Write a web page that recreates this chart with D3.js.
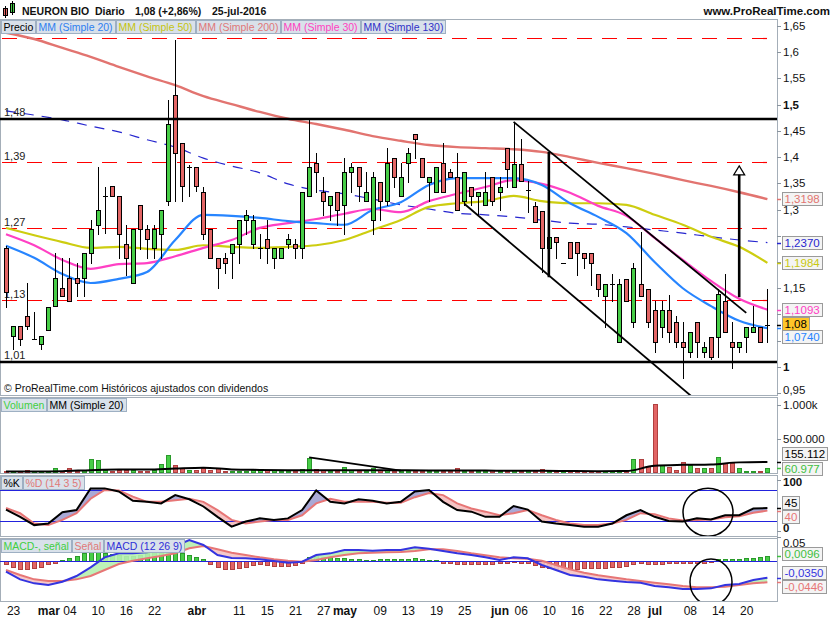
<!DOCTYPE html>
<html>
<head>
<meta charset="utf-8">
<title>NEURON BIO - Diario</title>
<script src="https://cdn.jsdelivr.net/npm/d3@7/dist/d3.min.js"></script>
<style>
  body { margin: 0; background: #fff; }
  svg { display: block; font-family: "Liberation Sans", Arial, sans-serif; }
</style>
</head>
<body>
<svg id="chart" width="835" height="620"></svg>
<script>
// sesiones (dd/mm, 2016)
const dates = [
  "22/02","23/02","24/02","25/02","26/02","29/02",
  "01/03","02/03","03/03","04/03","07/03","08/03","09/03","10/03","11/03","14/03","15/03","16/03","17/03","18/03","21/03","22/03","23/03","24/03","29/03","30/03","31/03",
  "01/04","04/04","05/04","06/04","07/04","08/04","11/04","12/04","13/04","14/04","15/04","18/04","19/04","20/04","21/04","22/04","25/04","26/04","27/04","28/04","29/04",
  "02/05","03/05","04/05","05/05","06/05","09/05","10/05","11/05","12/05","13/05","16/05","17/05","18/05","19/05","20/05","23/05","24/05","25/05","26/05","27/05","30/05","31/05",
  "01/06","02/06","03/06","06/06","07/06","08/06","09/06","10/06","13/06","14/06","15/06","16/06","17/06","20/06","21/06","22/06","23/06","24/06","27/06","28/06","29/06","30/06",
  "01/07","04/07","05/07","06/07","07/07","08/07","11/07","12/07","13/07","14/07","15/07","18/07","19/07","20/07","21/07","22/07","25/07"
];

const opens = [
  1.227,1.059,1.078,1.097,1.053,1.044,1.070,1.116,1.150,1.170,
  1.170,1.170,1.217,1.271,1.326,1.345,1.326,1.234,1.160,1.309,
  1.263,1.227,1.253,1.316,1.518,1.427,1.381,1.381,1.333,1.263,
  1.208,1.208,1.217,1.234,1.280,1.234,1.227,1.244,1.208,1.208,
  1.234,1.234,1.227,1.326,1.389,1.333,1.309,1.333,1.309,1.372,
  1.381,1.316,1.280,1.352,1.316,1.398,1.326,1.389,1.444,1.398,
  1.352,1.333,1.389,1.372,1.362,1.316,1.343,1.326,1.309,1.362,
  1.333,1.417,1.343,1.387,1.337,1.307,1.297,1.227,1.248,1.198,
  1.238,1.238,1.217,1.217,1.177,1.135,1.158,1.048,1.168,1.086,
  1.158,1.149,1.109,1.076,1.109,1.086,1.048,1.029,1.086,1.029,
  1.057,1.057,1.126,1.048,1.038,1.057,1.067,1.076,1.079
];
const highs = [
  1.230,1.078,1.078,1.160,1.105,1.059,1.114,1.217,1.208,1.208,
  1.198,1.217,1.280,1.381,1.343,1.345,1.326,1.271,1.263,1.309,
  1.271,1.271,1.299,1.509,1.623,1.427,1.385,1.381,1.343,1.263,
  1.208,1.217,1.234,1.280,1.299,1.290,1.253,1.280,1.227,1.227,
  1.253,1.244,1.333,1.473,1.408,1.362,1.326,1.333,1.398,1.389,
  1.381,1.372,1.372,1.352,1.417,1.398,1.389,1.417,1.444,1.398,
  1.362,1.381,1.427,1.377,1.408,1.372,1.343,1.333,1.372,1.362,
  1.362,1.417,1.465,1.434,1.354,1.315,1.297,1.248,1.248,1.198,
  1.238,1.238,1.217,1.217,1.177,1.158,1.177,1.168,1.168,1.198,
  1.257,1.149,1.126,1.126,1.137,1.097,1.086,1.067,1.086,1.048,
  1.057,1.149,1.177,1.086,1.048,1.076,1.116,1.076,1.149
];
const lows = [
  1.114,1.034,1.042,1.072,1.053,1.034,1.070,1.116,1.135,1.126,
  1.135,1.135,1.198,1.253,1.255,1.326,1.208,1.175,1.160,1.225,
  1.208,1.208,1.208,1.309,1.316,1.316,1.326,1.335,1.244,1.208,
  1.150,1.179,1.170,1.198,1.253,1.227,1.208,1.198,1.189,1.208,
  1.227,1.208,1.208,1.326,1.333,1.290,1.280,1.271,1.253,1.333,
  1.316,1.316,1.253,1.280,1.309,1.343,1.326,1.352,1.398,1.362,
  1.316,1.333,1.333,1.362,1.299,1.309,1.309,1.290,1.309,1.309,
  1.299,1.343,1.343,1.354,1.295,1.276,1.181,1.200,1.208,1.198,
  1.208,1.175,1.189,1.156,1.135,1.076,1.126,1.048,1.126,1.076,
  1.135,1.076,1.029,1.057,1.048,1.038,0.979,1.019,1.019,1.019,
  1.015,1.019,1.067,0.998,1.029,1.029,1.067,1.048,1.048
];
const closes = [
  1.143,1.078,1.053,1.078,1.053,1.059,1.114,1.170,1.135,1.126,
  1.160,1.217,1.263,1.299,1.326,1.326,1.253,1.208,1.263,1.263,
  1.244,1.263,1.299,1.463,1.408,1.345,1.381,1.345,1.253,1.208,
  1.189,1.198,1.234,1.280,1.290,1.280,1.227,1.227,1.227,1.227,
  1.244,1.227,1.333,1.381,1.372,1.316,1.326,1.299,1.372,1.381,
  1.345,1.333,1.362,1.316,1.389,1.362,1.362,1.408,1.434,1.362,
  1.362,1.381,1.333,1.362,1.299,1.372,1.326,1.333,1.333,1.316,
  1.343,1.377,1.387,1.354,1.337,1.276,1.227,1.248,1.238,1.198,
  1.208,1.217,1.208,1.198,1.149,1.158,1.158,1.158,1.126,1.189,
  1.135,1.086,1.048,1.109,1.067,1.048,1.038,1.067,1.048,1.038,
  1.019,1.140,1.067,1.038,1.048,1.076,1.076,1.048,1.080
];
// volumen en miles
const volumes = [
  25,25,15,35,15,20,25,64,25,64,
  25,35,207,183,40,25,40,40,30,25,
  25,30,123,257,109,74,40,40,69,40,
  69,15,15,15,15,35,35,35,35,25,
  25,15,49,212,49,35,25,25,84,35,
  25,25,64,35,40,25,15,15,15,15,
  25,25,15,15,64,25,15,15,25,40,
  15,25,35,15,35,15,49,15,15,10,
  15,15,15,15,15,15,15,35,15,198,
  198,99,1013,114,84,40,158,104,60,60,
  60,237,148,148,74,22,29,29,60.977
];

// medias moviles leidas cada 4 sesiones
const maIdx = [0,4,8,12,16,20,24,28,32,36,40,44,48,52,56,60,64,68,72,76,80,84,88,92,96,100,104,108];
const ma20  = [1.231,1.208,1.177,1.160,1.168,1.181,1.242,1.290,1.288,1.284,1.278,1.274,1.271,1.299,1.314,1.347,1.360,1.360,1.360,1.347,1.312,1.286,1.255,1.200,1.150,1.116,1.088,1.0740];
const ma30  = [1.253,1.232,1.204,1.187,1.196,1.198,1.211,1.227,1.242,1.265,1.274,1.282,1.292,1.301,1.295,1.316,1.330,1.343,1.356,1.349,1.332,1.307,1.288,1.246,1.204,1.164,1.130,1.1093];
const ma50  = [1.265,1.251,1.238,1.227,1.229,1.225,1.223,1.232,1.229,1.227,1.229,1.232,1.242,1.261,1.280,1.305,1.312,1.316,1.326,1.316,1.312,1.312,1.309,1.290,1.271,1.248,1.229,1.1984];
const ma130 = [1.488,1.480,1.471,1.459,1.448,1.433,1.419,1.398,1.383,1.370,1.349,1.337,1.330,1.320,1.309,1.301,1.293,1.290,1.286,1.280,1.274,1.272,1.267,1.261,1.255,1.248,1.242,1.2370];
const ma200 = [1.637,1.625,1.608,1.591,1.572,1.554,1.537,1.516,1.501,1.486,1.473,1.463,1.452,1.440,1.431,1.423,1.419,1.417,1.415,1.410,1.400,1.389,1.379,1.368,1.356,1.345,1.333,1.3198];
const volMa = [15,15,20,35,45,45,60,72,45,38,35,35,35,35,32,30,30,28,25,25,22,20,22,100,114,120,150,155.112];

// osciladores leidos cada 2 sesiones
const oscIdx = [0,2,4,6,8,10,12,14,16,18,20,22,24,26,28,30,32,34,36,38,40,42,44,46,48,50,52,54,56,58,60,62,64,66,68,70,72,74,76,78,80,82,84,86,88,90,92,94,96,98,100,102,104,106,108];
const stoK = [42,28,12,15,37,41,83,83,77,59,57,54,70,62,48,28,9,19,25,22,25,41,79,57,54,62,59,54,57,77,80,57,41,38,28,28,49,42,19,15,12,9,9,15,31,41,28,20,19,25,23,31,31,44,45];
const stoD = [45,35,15,12,22,35,63,80,79,67,57,57,60,63,57,41,22,15,19,22,22,31,54,63,57,57,57,55,55,66,74,70,54,44,38,31,35,41,31,22,15,12,12,15,22,35,33,25,21,22,23,27,29,36,40];
const macd = [-0.0224,-0.0385,-0.0469,-0.0504,-0.0434,-0.0315,-0.0133,0.0077,0.0161,0.0161,0.0182,0.0231,0.0315,0.0440,0.0336,0.0126,0.0063,0.0056,0.0035,0.0000,-0.0035,-0.0014,0.0126,0.0161,0.0231,0.0231,0.0217,0.0231,0.0231,0.0287,0.0259,0.0210,0.0161,0.0126,0.0077,0.0021,0.0077,0.0056,-0.0084,-0.0189,-0.0294,-0.0329,-0.0385,-0.0413,-0.0441,-0.0455,-0.0525,-0.0553,-0.0588,-0.0588,-0.0574,-0.0504,-0.0483,-0.0399,-0.0350];
const signal = [-0.0189,-0.0294,-0.0385,-0.0420,-0.0420,-0.0385,-0.0315,-0.0189,-0.0063,0.0007,0.0056,0.0105,0.0161,0.0266,0.0315,0.0245,0.0175,0.0126,0.0077,0.0035,0.0007,-0.0014,0.0021,0.0077,0.0126,0.0161,0.0175,0.0182,0.0189,0.0210,0.0245,0.0245,0.0210,0.0161,0.0119,0.0077,0.0056,0.0049,0.0007,-0.0084,-0.0175,-0.0245,-0.0301,-0.0343,-0.0385,-0.0420,-0.0455,-0.0490,-0.0525,-0.0553,-0.0553,-0.0539,-0.0504,-0.0469,-0.0446];
// histograma MACD - señal, una barra por sesion
const macdHist = [
  -0.0070,-0.0133,-0.0168,-0.0175,-0.0154,-0.0119,-0.0070,-0.0035,
  0.0021,0.0056,0.0105,0.0161,0.0196,0.0196,0.0175,0.0147,0.0126,0.0105,0.0105,0.0126,0.0161,0.0196,0.0217,0.0196,0.0175,0.0161,0.0126,0.0077,0.0042,
  -0.0070,-0.0119,-0.0175,-0.0175,-0.0154,-0.0119,-0.0084,-0.0070,-0.0084,-0.0098,-0.0105,-0.0098,-0.0084,-0.0049,
  0.0077,0.0105,0.0077,0.0077,0.0056,0.0056,0.0042,0.0035,0.0021,0.0021,0.0035,0.0035,0.0035,0.0049,0.0035,0.0056,0.0035,0.0021,0.0014,
  -0.0035,-0.0049,-0.0063,-0.0063,-0.0070,-0.0070,-0.0070,-0.0063,-0.0049,-0.0035,-0.0021,-0.0035,-0.0049,-0.0084,-0.0119,-0.0154,-0.0168,-0.0168,-0.0175,-0.0161,
  -0.0140,-0.0140,-0.0140,-0.0140,-0.0133,-0.0119,-0.0098,-0.0070,-0.0049,-0.0063,-0.0070,-0.0070,-0.0049,-0.0049,-0.0049,-0.0049,-0.0035,-0.0035,-0.0021,
  0.0035,0.0042,0.0035,0.0042,0.0056,0.0056,0.0077,0.0096
];

// niveles y objetos dibujados
const blackLevels = [[1.4726, "1,48"], [1.01, "1,01"]];
const redLevels = [[1.627, ""], [1.390, "1,39"], [1.264, "1,27"], [1.1276, "1,13"]];
const channelUp = [["03/06", 1.467], ["20/07", 1.103]];
const channelLow = [["25/05", 1.311], ["12/07", 0.924]];
const vertLine = [["10/06", 1.410], ["10/06", 1.171]];
const arrowLine = [["19/07", 1.133], ["19/07", 1.368]];
const volTrend = [["25/04", 225000], ["12/05", 27000]];
const stoCircle = ["13/07", 37];
const macdCircle = ["13/07", -0.044];
const stoLevels = [80, 20];

const priceTicks = [0.95,1,1.05,1.1,1.15,1.2,1.25,1.3,1.35,1.4,1.45,1.5,1.55,1.6,1.65];
const xTicks = [["23/02","23"],["01/03","mar"],["04/03","04"],["10/03","10"],["16/03","16"],["22/03","22"],
  ["01/04","abr"],["11/04","11"],["15/04","15"],["21/04","21"],["27/04","27"],["02/05","may"],["09/05","09"],
  ["13/05","13"],["19/05","19"],["25/05","25"],["01/06","jun"],["06/06","06"],["10/06","10"],["16/06","16"],
  ["22/06","22"],["28/06","28"],["01/07","jul"],["08/07","08"],["14/07","14"],["20/07","20"]];
const months = ["mar","abr","may","jun","jul"];

// ---------------------------------------------------------------
const svg = d3.select("#chart");
const defs = svg.append("defs");
const PR = 777;
const P = { price: [19, 395], vol: [397, 473], sto: [475, 536], macd: [538, 601] };
const GREEN = "#47cd47", RED = "#e26565";

const x = d3.scalePoint().domain(dates).range([6, 767.4]);
const yP = d3.scaleLinear().domain([0.95, 1.66]).range([393.2, 20.65]);
const yV = d3.scaleLinear().domain([0, 1000000]).range([472.5, 405]);
const yS = d3.scaleLinear().domain([0, 100]).range([531.3, 479.6]);
const yM = d3.scaleLinear().domain([-0.06, 0.05]).range([589.6, 537.2]);

const loc = d3.formatLocale({decimal: ",", thousands: ".", grouping: [3], currency: ["", "€"], minus: "-"});
const f2 = loc.format(".2f"), f4 = loc.format(".4f"), fTh = loc.format(",.0f"), fTick = loc.format(".2~f");
const lastOf = a => a[a.length - 1];
const last = dates.length - 1;

const px = i => Math.round(x(dates[i]));
const crisp = v => Math.round(v) + 0.5;

Object.entries(P).forEach(([k, [t, b]]) => {
  defs.append("clipPath").attr("id", "clip-" + k)
    .append("rect").attr("x", 0).attr("y", t).attr("width", PR).attr("height", b - t);
});

// marcos de paneles
Object.values(P).forEach(([t, b]) => {
  svg.append("rect").attr("x", 0.5).attr("y", t + 0.5).attr("width", PR).attr("height", b - t)
    .attr("fill", "#fff").attr("stroke", "#a4aeb8");
});

// ---------------- panel de precio ----------------
const gp = svg.append("g").attr("clip-path", "url(#clip-price)");

redLevels.forEach(([v, lab]) => {
  const yy = crisp(yP(v));
  gp.append("line").attr("x1", 2).attr("x2", PR).attr("y1", yy).attr("y2", yy)
    .attr("stroke", "#ff0000").attr("stroke-width", 1.2).attr("stroke-dasharray", "15,10");
  if (lab) gp.append("text").attr("x", 4).attr("y", yy - 3).text(lab).style("font-size", "11px").attr("fill", "#222");
});

const maLine = d3.line().x((v, k) => x(dates[maIdx[k]])).y(v => yP(v)).curve(d3.curveMonotoneX);
[[ma200, "#e27470", 2.4, null], [ma130, "#2626cf", 1.2, "10,8"], [ma50, "#cdcd10", 2.2, null],
 [ma30, "#ff40c4", 2.2, null], [ma20, "#2785ff", 2.2, null]].forEach(([arr, c, w, dash]) => {
  gp.append("path").attr("d", maLine(arr)).attr("fill", "none").attr("stroke", c)
    .attr("stroke-width", w).attr("stroke-dasharray", dash);
});

// velas
dates.forEach((d, i) => {
  const cx = px(i);
  const o = opens[i], c = closes[i];
  gp.append("line").attr("x1", cx + 0.5).attr("x2", cx + 0.5)
    .attr("y1", Math.round(yP(highs[i]))).attr("y2", Math.round(yP(lows[i])) + 1)
    .attr("stroke", "#000").attr("stroke-width", 1);
  const yTop = Math.round(yP(Math.max(o, c))), yBot = Math.round(yP(Math.min(o, c)));
  if (yBot - yTop < 2) {
    gp.append("line").attr("x1", cx - 2).attr("x2", cx + 3).attr("y1", yTop + 0.5).attr("y2", yTop + 0.5)
      .attr("stroke", "#000").attr("stroke-width", 1);
  } else {
    gp.append("rect").attr("x", cx - 1.5).attr("y", yTop + 0.5).attr("width", 4).attr("height", yBot - yTop)
      .attr("fill", c > o ? GREEN : RED).attr("stroke", "#000").attr("stroke-width", 1);
  }
});

blackLevels.forEach(([v, lab]) => {
  const yy = Math.round(yP(v));
  gp.append("line").attr("x1", 0).attr("x2", PR).attr("y1", yy).attr("y2", yy)
    .attr("stroke", "#000").attr("stroke-width", 2.4);
  gp.append("text").attr("x", 4).attr("y", yy - 3).text(lab).style("font-size", "11px").attr("fill", "#222");
});

const segP = seg => gp.append("line")
  .attr("x1", x(seg[0][0])).attr("y1", yP(seg[0][1])).attr("x2", x(seg[1][0])).attr("y2", yP(seg[1][1]))
  .attr("stroke", "#000");
segP(channelUp).attr("stroke-width", 1.8);
segP(channelLow).attr("stroke-width", 1.8);
segP(vertLine).attr("stroke-width", 2.6);
segP(arrowLine).attr("stroke-width", 2.6);
{
  const ax = x(arrowLine[1][0]), ay = yP(arrowLine[1][1]);
  gp.append("path").attr("d", `M${ax},${ay - 8}L${ax + 5.5},${ay + 1}L${ax - 5.5},${ay + 1}Z`)
    .attr("fill", "#fff").attr("stroke", "#000").attr("stroke-width", 1.2);
}

gp.append("text").attr("x", 4).attr("y", 392).style("font-size", "10.5px").attr("fill", "#111")
  .text("© ProRealTime.com Históricos ajustados con dividendos");

// ---------------- volumen ----------------
const gv = svg.append("g").attr("clip-path", "url(#clip-vol)");
dates.forEach((d, i) => {
  const cx = px(i), v = volumes[i] * 1000;
  const up = closes[i] >= opens[i];
  const yy = Math.round(yV(v));
  gv.append("rect").attr("x", cx - 1.5).attr("y", yy + 0.5).attr("width", 4).attr("height", Math.max(1, 472 - yy))
    .attr("fill", up ? GREEN : RED).attr("stroke", up ? "#2b9a2b" : "#b04040").attr("stroke-width", 1);
});
gv.append("path")
  .attr("d", d3.line().x((v, k) => x(dates[maIdx[k]])).y(v => yV(v * 1000)).curve(d3.curveMonotoneX)(volMa))
  .attr("fill", "none").attr("stroke", "#000").attr("stroke-width", 2);
gv.append("line").attr("x1", x(volTrend[0][0])).attr("y1", yV(volTrend[0][1]))
  .attr("x2", x(volTrend[1][0])).attr("y2", yV(volTrend[1][1])).attr("stroke", "#000").attr("stroke-width", 1.8);

// ---------------- estocastico ----------------
const gs = svg.append("g").attr("clip-path", "url(#clip-sto)");
const sPts = oscIdx.map((idx, k) => ({ x: x(dates[idx]), k: stoK[k], d: stoD[k] }));
const sTop = P.sto[0], sBot = P.sto[1];
defs.append("clipPath").attr("id", "belowK").append("path")
  .attr("d", d3.area().x(d => d.x).y0(sBot).y1(d => yS(d.k))(sPts));
defs.append("clipPath").attr("id", "belowD").append("path")
  .attr("d", d3.area().x(d => d.x).y0(sBot).y1(d => yS(d.d))(sPts));
gs.append("g").attr("clip-path", "url(#belowK)").append("path")
  .attr("d", d3.area().x(d => d.x).y0(sTop).y1(d => yS(d.d))(sPts)).attr("fill", "#a9a9d6");
gs.append("g").attr("clip-path", "url(#belowD)").append("path")
  .attr("d", d3.area().x(d => d.x).y0(sTop).y1(d => yS(d.k))(sPts)).attr("fill", "#f5c3c3");
stoLevels.forEach(v => {
  gs.append("line").attr("x1", 0).attr("x2", PR).attr("y1", crisp(yS(v))).attr("y2", crisp(yS(v)))
    .attr("stroke", "#2222dd").attr("stroke-width", 1);
});
gs.append("path").attr("d", d3.line().x(d => d.x).y(d => yS(d.d))(sPts))
  .attr("fill", "none").attr("stroke", "#e77676").attr("stroke-width", 2);
gs.append("path").attr("d", d3.line().x(d => d.x).y(d => yS(d.k))(sPts))
  .attr("fill", "none").attr("stroke", "#000").attr("stroke-width", 2);
gs.append("ellipse").attr("cx", x(stoCircle[0]) - 3).attr("cy", yS(stoCircle[1])).attr("rx", 25).attr("ry", 24)
  .attr("fill", "none").attr("stroke", "#000").attr("stroke-width", 1.5);

// ---------------- MACD ----------------
const gm = svg.append("g").attr("clip-path", "url(#clip-macd)");
dates.forEach((d, i) => {
  const cx = px(i), v = macdHist[i];
  const y0 = Math.round(yM(0)), y1 = Math.round(yM(v));
  gm.append("rect").attr("x", cx - 1.5).attr("y", Math.min(y0, y1) + 0.5).attr("width", 4)
    .attr("height", Math.max(1, Math.abs(y1 - y0)))
    .attr("fill", v >= 0 ? GREEN : RED).attr("stroke", v >= 0 ? "#2b9a2b" : "#b04040").attr("stroke-width", 1);
});
const mPts = oscIdx.map((idx, k) => ({ x: x(dates[idx]), m: macd[k], s: signal[k] }));
const mTop = P.macd[0], mBot = P.macd[1];
defs.append("clipPath").attr("id", "belowM").append("path")
  .attr("d", d3.area().x(d => d.x).y0(mBot).y1(d => yM(d.m))(mPts));
defs.append("clipPath").attr("id", "belowS").append("path")
  .attr("d", d3.area().x(d => d.x).y0(mBot).y1(d => yM(d.s))(mPts));
gm.append("g").attr("clip-path", "url(#belowM)").append("path")
  .attr("d", d3.area().x(d => d.x).y0(mTop).y1(d => yM(d.s))(mPts)).attr("fill", "#b6efb0").attr("opacity", 0.9);
gm.append("g").attr("clip-path", "url(#belowS)").append("path")
  .attr("d", d3.area().x(d => d.x).y0(mTop).y1(d => yM(d.m))(mPts)).attr("fill", "#f5c3c3").attr("opacity", 0.9);
gm.append("line").attr("x1", 0).attr("x2", PR).attr("y1", crisp(yM(0))).attr("y2", crisp(yM(0)))
  .attr("stroke", "#2222dd").attr("stroke-width", 1);
gm.append("path").attr("d", d3.line().x(d => d.x).y(d => yM(d.s))(mPts))
  .attr("fill", "none").attr("stroke", "#e77676").attr("stroke-width", 2);
gm.append("path").attr("d", d3.line().x(d => d.x).y(d => yM(d.m))(mPts))
  .attr("fill", "none").attr("stroke", "#3434e0").attr("stroke-width", 2);
gm.append("ellipse").attr("cx", x(macdCircle[0])).attr("cy", yM(macdCircle[1])).attr("rx", 21).attr("ry", 23)
  .attr("fill", "none").attr("stroke", "#000").attr("stroke-width", 1.5);

// ---------------- ejes derechos ----------------
// cajas con el ultimo valor de cada serie
const priceBoxes = [
  {y: yP(lastOf(ma200)), t: f4(lastOf(ma200)), c: "#e27470", mark: yP(lastOf(ma200))},
  {y: yP(lastOf(ma130)), t: f4(lastOf(ma130)), c: "#2626cf", mark: yP(lastOf(ma130))},
  {y: yP(lastOf(ma50)), t: f4(lastOf(ma50)), c: "#c8c810", mark: yP(lastOf(ma50))},
  {y: yP(lastOf(ma30)), t: f4(lastOf(ma30)), c: "#ff40c4", mark: yP(lastOf(ma30))},
  {y: yP(lastOf(ma20)) + 9, t: f4(lastOf(ma20)), c: "#2785ff", mark: yP(lastOf(ma20))},
  {y: yP(closes[last]) - 1, t: f2(closes[last]), c: "#000", fill: "#ffc629", mark: yP(closes[last])}
];

function rightTick(y, label, bold, dy) {
  svg.append("line").attr("x1", PR).attr("x2", PR + 4).attr("y1", crisp(y)).attr("y2", crisp(y)).attr("stroke", "#8a949e");
  if (label !== null) svg.append("text").attr("x", PR + 6).attr("y", y + 4 + (dy || 0)).text(label)
    .style("font-size", "11.5px").style("font-weight", bold ? "bold" : "normal").attr("fill", "#111");
}
priceTicks.forEach(v => {
  const yy = yP(v);
  const hidden = priceBoxes.some(b => Math.abs(b.y - yy) < 9);
  rightTick(yy, hidden ? null : fTick(v), v === 1.5 || v === 1, v === 0.95 ? -3 : 0);
});
rightTick(yV(1000000), "1.000k", false, 0);
rightTick(yV(500000), "500.000", false, 0);
rightTick(yS(100), "100", true, 2);
rightTick(yS(0), "0", true, -3);
rightTick(yM(0.05), "0,05", false, 6);

function valBox(b) {
  if (b.mark !== undefined) svg.append("line").attr("x1", PR).attr("x2", PR + 4)
    .attr("y1", crisp(b.mark)).attr("y2", crisp(b.mark)).attr("stroke", b.c).attr("stroke-width", 1.5);
  const r = svg.append("rect").attr("x", 782.5).attr("y", Math.round(b.y) - 6.5).attr("height", 13)
    .attr("fill", b.fill || "#f4f4f4").attr("stroke", "#9a9a9a");
  const t = svg.append("text").attr("x", 784.5).attr("y", Math.round(b.y) + 4).text(b.t)
    .style("font-size", "11.5px").attr("fill", b.c);
  r.attr("width", Math.ceil(t.node().getComputedTextLength()) + 4);
}
priceBoxes.forEach(valBox);

valBox({y: yV(lastOf(volMa) * 1000) - 8, t: fTh(lastOf(volMa) * 1000), c: "#000", mark: yV(lastOf(volMa) * 1000)});
valBox({y: yV(volumes[last] * 1000) + 1, t: fTh(volumes[last] * 1000), c: "#3fbf3f", mark: yV(volumes[last] * 1000)});

valBox({y: yS(lastOf(stoK)) - 5, t: String(lastOf(stoK)), c: "#000", mark: yS(lastOf(stoK))});
valBox({y: yS(lastOf(stoD)) + 6, t: String(lastOf(stoD)), c: "#e77676", mark: yS(lastOf(stoD))});

valBox({y: yM(macdHist[last]) - 2, t: f4(macdHist[last]), c: "#3fbf3f", mark: yM(macdHist[last])});
valBox({y: yM(lastOf(macd)) - 5, t: f4(lastOf(macd)), c: "#3434e0", mark: yM(lastOf(macd))});
valBox({y: yM(lastOf(signal)) + 5, t: f4(lastOf(signal)), c: "#e77676", mark: yM(lastOf(signal))});

// ---------------- eje X ----------------
const xAxis = svg.append("g").attr("transform", `translate(0,${P.macd[1]})`)
  .call(d3.axisBottom(x).tickValues(xTicks.map(d => d[0])).tickSize(0).tickPadding(5)
    .tickFormat(d => xTicks.find(t => t[0] === d)[1]));
xAxis.select(".domain").remove();
xAxis.selectAll("text").style("font-size", "12px").attr("fill", "#111")
  .style("font-family", '"Liberation Sans", Arial, sans-serif')
  .style("font-weight", d => months.includes(xTicks.find(t => t[0] === d)[1]) ? "bold" : "normal");

// ---------------- leyendas ----------------
function legend(items, x0, y0) {
  let xx = x0;
  items.forEach(it => {
    const r = svg.append("rect").attr("x", xx + 0.5).attr("y", y0 + 0.5).attr("height", 13)
      .attr("fill", "#d9e1ea").attr("stroke", "#9eb0c3");
    const t = svg.append("text").attr("x", xx + 2.5).attr("y", y0 + 10.5).attr("fill", it.c)
      .style("font-size", "10.5px").text(it.t);
    const w = Math.ceil(t.node().getComputedTextLength()) + 4;
    r.attr("width", w);
    xx += w + 1;
  });
}
legend([{t: "Precio", c: "#000"}, {t: "MM (Simple 20)", c: "#2e7ff0"}, {t: "MM (Simple 50)", c: "#c4c410"},
  {t: "MM (Simple 200)", c: "#e07878"}, {t: "MM (Simple 30)", c: "#ff3fc0"}, {t: "MM (Simple 130)", c: "#3030c8"}], 1, 20);
legend([{t: "Volumen", c: "#3fcf3f"}, {t: "MM (Simple 20)", c: "#000"}], 1, 398);
legend([{t: "%K", c: "#000"}, {t: "%D (14 3 5)", c: "#e07878"}], 1, 476);
legend([{t: "MACD-, señal", c: "#3fcf3f"}, {t: "Señal", c: "#e07878"}, {t: "MACD (12 26 9)", c: "#3030d8"}], 1, 539);

// ---------------- cabecera ----------------
svg.append("rect").attr("x", 3.5).attr("y", 8.5).attr("width", 4).attr("height", 7).attr("fill", RED).attr("stroke", "#000");
svg.append("line").attr("x1", 5.5).attr("x2", 5.5).attr("y1", 6).attr("y2", 18).attr("stroke", "#000");
svg.append("rect").attr("x", 10.5).attr("y", 3.5).attr("width", 4).attr("height", 9).attr("fill", GREEN).attr("stroke", "#000");
svg.append("line").attr("x1", 12.5).attr("x2", 12.5).attr("y1", 1).attr("y2", 15).attr("stroke", "#000");
const head = [["NEURON BIO", 22], ["Diario", 95], [f2(closes[last]) + " (+2,86%)", 135], ["25-jul-2016", 212]];
head.forEach(([t, xx]) => svg.append("text").attr("x", xx).attr("y", 15).text(t)
  .style("font-size", "10.5px").style("font-weight", "bold").attr("fill", "#111"));
svg.append("text").attr("x", 830).attr("y", 15).attr("text-anchor", "end").text("www.ProRealTime.com")
  .style("font-size", "11.5px").style("font-weight", "bold").attr("fill", "#111");
</script>
</body>
</html>
